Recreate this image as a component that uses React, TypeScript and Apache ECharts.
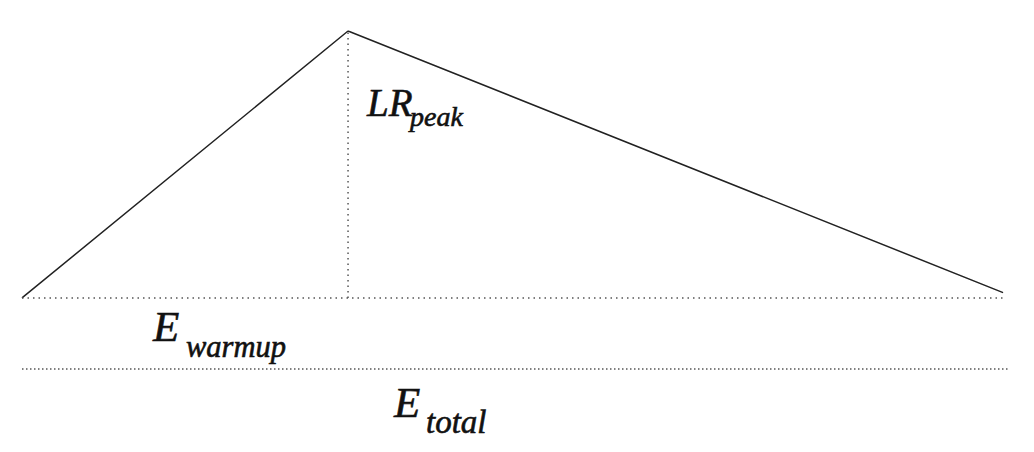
import React, { useEffect, useRef } from "react";
import * as echarts from "echarts";

// Schedule key points (x in % of training, y relative LR)
const scheduleX = [0, 33, 99.3];
const scheduleLR = [0, 1, 0.02];
const warmupEnd = 33;
const peakLR = 1;
const totalEnd = 100;
const totalLineLevel = -0.266;

const FONT = "Liberation Serif";

export default function App() {
  const ref = useRef<HTMLDivElement>(null);
  useEffect(() => {
    if (!ref.current) return;
    const chart = echarts.init(ref.current, undefined, { renderer: "svg" });
    const solid = scheduleX.map((x, i) => [x, scheduleLR[i]]);
    const mainText = (x: number, y: number, text: string, size: number) => ({
      type: "text",
      x,
      y,
      silent: true,
      style: {
        text,
        fontFamily: FONT,
        fontStyle: "italic",
        fontSize: size,
        fill: "#111",
        stroke: "#111",
        lineWidth: 0.6,
        align: "left",
        verticalAlign: "middle",
      },
    });
    chart.setOption({
      animation: false,
      backgroundColor: "#fff",
      grid: { left: 22, right: 24, top: 31, bottom: 74 },
      xAxis: { type: "value", min: 0, max: totalEnd, show: false },
      yAxis: { type: "value", min: -0.3, max: 1, show: false },
      series: [
        {
          type: "line",
          data: solid,
          symbol: "none",
          silent: true,
          lineStyle: { color: "#222", width: 1.5 },
          z: 3,
        },
        {
          type: "line",
          data: [
            [warmupEnd, 0],
            [warmupEnd, peakLR],
          ],
          symbol: "none",
          silent: true,
          lineStyle: { color: "#555", width: 1.5, type: [1.5, 4] },
        },
        {
          type: "line",
          data: [
            [scheduleX[0], 0],
            [scheduleX[2], 0],
          ],
          symbol: "none",
          silent: true,
          lineStyle: { color: "#555", width: 1.5, type: [1.5, 4] },
        },
        {
          type: "line",
          data: [
            [0, totalLineLevel],
            [totalEnd, totalLineLevel],
          ],
          symbol: "none",
          silent: true,
          lineStyle: { color: "#555", width: 1.5, type: [1.5, 2.5] },
        },
      ],
      graphic: [
        mainText(367, 102.8, "LR", 39),
        mainText(410, 116.5, "peak", 28),
        mainText(153, 326.5, "E", 43),
        mainText(186, 346.7, "warmup", 30.5),
        mainText(394, 402.5, "E", 43),
        mainText(426, 421.9, "total", 33),
      ],
    });
    return () => chart.dispose();
  }, []);
  return (
    <div
      ref={ref}
      style={{ position: "fixed", left: 0, top: 0, width: 1034, height: 452 }}
    />
  );
}
